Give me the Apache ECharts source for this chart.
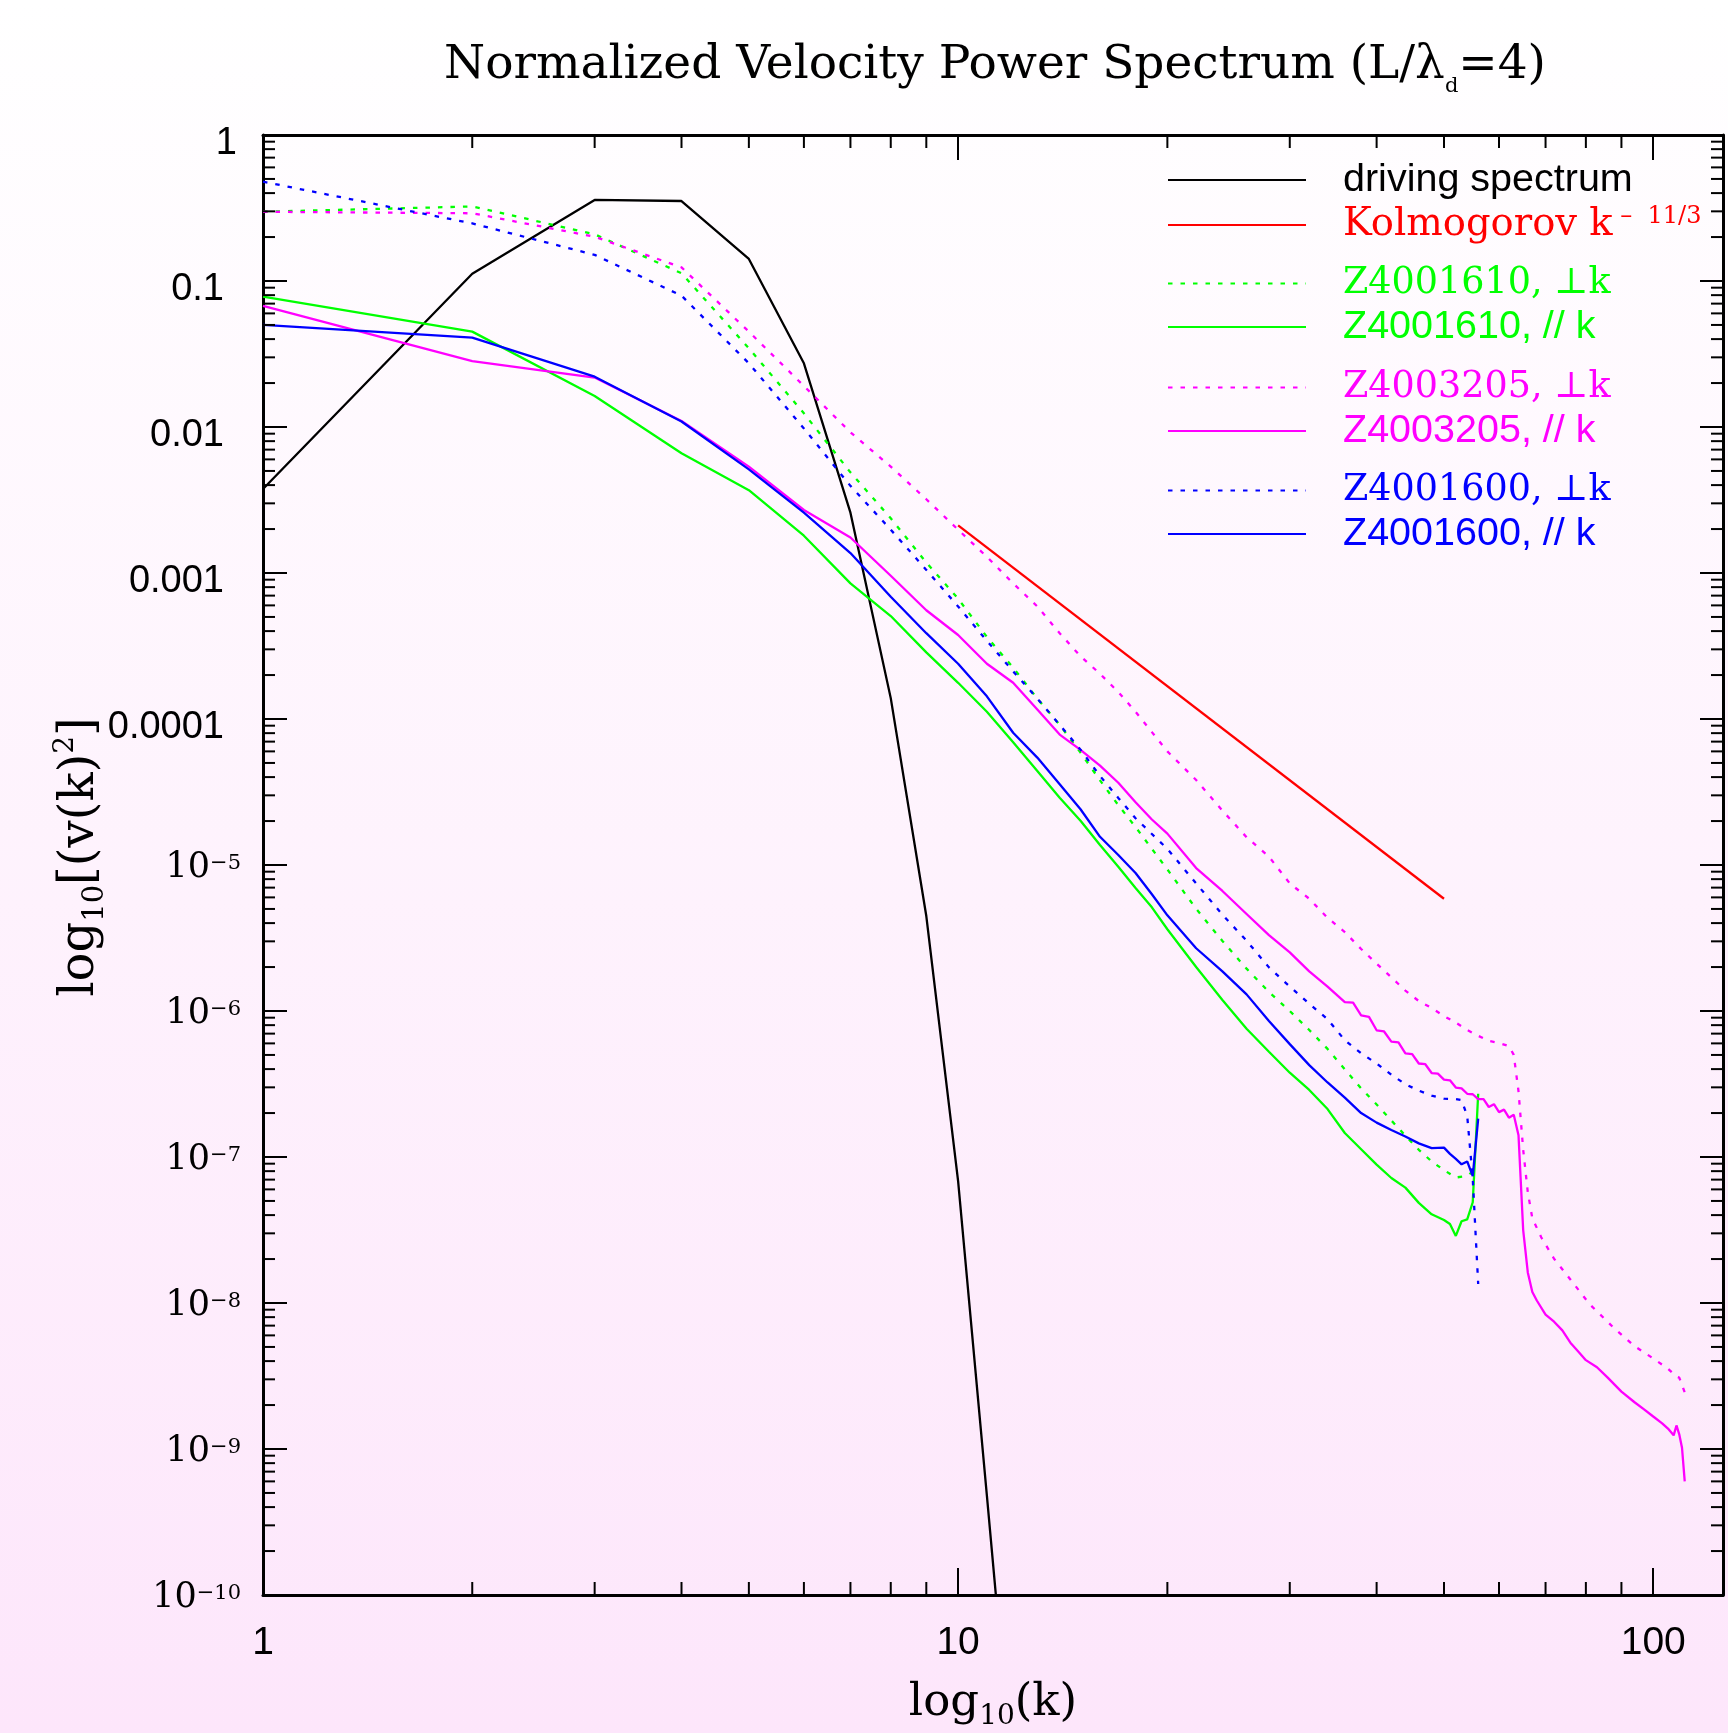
<!DOCTYPE html>
<html><head><meta charset="utf-8">
<script src="https://cdn.jsdelivr.net/npm/echarts/dist/echarts.min.js"></script>
<style>html,body{margin:0;padding:0;background:#fff}#c{width:1728px;height:1733px}</style>
</head><body><div id="c"></div>
<script>
// ---------- axis ranges & tick labels ----------
const X_MIN = 1, X_MAX = 126, Y_MIN = 1e-10, Y_MAX = 1;
const xTickLabels = ['1', '10', '100'];            // at 10^0, 10^1, 10^2
const yTickLabels = ['1', '0.1', '0.01', '0.001', '0.0001',
  '10^−5', '10^−6', '10^−7', '10^−8', '10^−9', '10^−10']; // at 10^0 ... 10^-10

// ---------- series data (k, power) ----------
const kDrive = [1, 2, 3, 4, 5, 6, 7, 8, 9, 10, 11, 12];
const vDrive = [3.76e-3, 0.112, 0.359, 0.353, 0.1416, 2.73e-2, 2.59e-3, 1.39e-4, 4.47e-6, 6.84e-8, 4.79e-10, 4.9e-12];

const kKolmo = [10, 50];
const vKolmo = [2.12e-3, 5.87e-6];

const kZ1610perp = [1,2,3,4,5,6,7,8,9,10,11,12,13,14,15,16,17,18,19,20,22,24,26,28,30,32,34,36,38,40,42,44,46,48,50,52,54,56];
const vZ1610perp = [0.298,0.324,0.209,0.113,3.46e-2,1.24e-2,4.89e-3,2.37e-3,1.18e-3,6.67e-4,3.65e-4,2.25e-4,1.38e-4,9.12e-5,5.89e-5,3.80e-5,2.57e-5,1.82e-5,1.29e-5,9.33e-6,5.01e-6,3.02e-6,1.95e-6,1.35e-6,1.00e-6,7.41e-7,5.50e-7,3.98e-7,2.95e-7,2.29e-7,1.78e-7,1.40e-7,1.12e-7,9.33e-8,8.13e-8,7.24e-8,7.41e-8,8.51e-8];

const kZ1610par = [1,2,3,4,5,6,7,8,9,10,11,12,13,14,15,16,17,18,19,20,22,24,26,28,30,32,34,36,38,40,42,44,46,48,50,51,52,53,54,55,56];
const vZ1610par = [7.82e-2,4.50e-2,1.63e-2,6.61e-3,3.69e-3,1.80e-3,8.49e-4,5.07e-4,2.86e-4,1.77e-4,1.12e-4,6.92e-5,4.41e-5,2.89e-5,2.01e-5,1.37e-5,9.73e-6,6.95e-6,5.13e-6,3.63e-6,2.00e-6,1.19e-6,7.55e-7,5.26e-7,3.78e-7,2.88e-7,2.13e-7,1.46e-7,1.13e-7,8.87e-8,7.18e-8,6.17e-8,4.85e-8,4.05e-8,3.70e-8,3.48e-8,2.88e-8,3.63e-8,3.74e-8,4.90e-8,2.71e-7];

const kZ3205perp = [1,2,3,4,5,6,7,8,9,10,11,12,13,14,15,16,17,18,19,20,22,24,26,28,30,32,34,36,38,40,42,44,46,48,50,52,54,56,58,60,62,63,64,65,66,67,69,72,76,81,88,94,100,105,108,109,111];
const vZ3205perp = [0.298,0.291,0.201,0.124,4.50e-2,1.91e-2,9.20e-3,5.35e-3,3.20e-3,1.98e-3,1.29e-3,8.49e-4,5.90e-4,3.87e-4,2.69e-4,2.04e-4,1.53e-4,1.12e-4,8.13e-5,6.00e-5,3.82e-5,2.36e-5,1.55e-5,1.14e-5,7.48e-6,5.87e-6,4.35e-6,3.47e-6,2.66e-6,2.11e-6,1.70e-6,1.38e-6,1.17e-6,1.05e-6,9.23e-7,8.32e-7,7.41e-7,6.76e-7,6.24e-7,6.04e-7,5.75e-7,5.01e-7,2.82e-7,1.12e-7,5.75e-8,3.80e-8,2.82e-8,2.01e-8,1.45e-8,9.82e-9,6.67e-9,5.06e-9,4.17e-9,3.55e-9,3.13e-9,3.08e-9,2.44e-9];

const kZ3205par = [1,2,3,4,5,6,7,8,9,10,11,12,13,14,15,16,17,18,19,20,22,24,26,28,30,32,34,36,37,38,39,40,41,42,43,44,45,46,47,48,49,50,51,52,53,54,55,56,57,58,59,60,61,62,63,64,65,66,67,68,70,72,74,76,78,80,83,86,90,94,97,100,103,105,107,108,109,110,111];
const vZ3205par = [6.75e-2,2.83e-2,2.18e-2,1.10e-2,5.35e-3,2.70e-3,1.75e-3,9.57e-4,5.56e-4,3.76e-4,2.39e-4,1.77e-4,1.16e-4,7.82e-5,6.14e-5,4.79e-5,3.66e-5,2.69e-5,2.05e-5,1.64e-5,9.53e-6,6.64e-6,4.62e-6,3.31e-6,2.52e-6,1.87e-6,1.47e-6,1.15e-6,1.14e-6,9.33e-7,9.12e-7,7.38e-7,7.24e-7,6.17e-7,6.10e-7,5.13e-7,5.07e-7,4.37e-7,4.32e-7,3.76e-7,3.72e-7,3.39e-7,3.35e-7,2.99e-7,2.95e-7,2.71e-7,2.69e-7,2.49e-7,2.49e-7,2.20e-7,2.30e-7,2.03e-7,2.11e-7,1.86e-7,1.95e-7,1.41e-7,3.16e-8,1.62e-8,1.19e-8,1.04e-8,8.32e-9,7.45e-9,6.49e-9,5.35e-9,4.66e-9,4.06e-9,3.63e-9,3.08e-9,2.47e-9,2.09e-9,1.87e-9,1.67e-9,1.50e-9,1.38e-9,1.24e-9,1.45e-9,1.26e-9,1.02e-9,6.01e-10];

const kZ1600perp = [1,2,3,4,5,6,7,8,9,10,11,12,13,14,15,16,17,18,20,22,24,26,28,30,32,34,36,38,40,42,44,46,48,50,52,53,54,55,56];
const vZ1600perp = [0.479,0.248,0.151,7.94e-2,2.73e-2,9.77e-3,3.95e-3,1.98e-3,1.05e-3,5.90e-4,3.43e-4,2.12e-4,1.38e-4,9.12e-5,6.17e-5,4.07e-5,2.88e-5,2.09e-5,1.29e-5,7.48e-6,4.57e-6,3.03e-6,1.99e-6,1.47e-6,1.12e-6,8.79e-7,6.31e-7,5.13e-7,4.37e-7,3.66e-7,3.15e-7,2.85e-7,2.63e-7,2.51e-7,2.49e-7,2.45e-7,1.91e-7,7.08e-8,1.35e-8];

const kZ1600par = [1,2,3,4,5,6,7,8,9,10,11,12,13,14,15,16,17,18,19,20,22,24,26,28,30,32,34,36,38,40,42,44,46,48,50,51,52,53,54,55,56];
const vZ1600par = [5.00e-2,4.09e-2,2.21e-2,1.09e-2,5.13e-3,2.59e-3,1.37e-3,6.87e-4,3.87e-4,2.39e-4,1.43e-4,8.05e-5,5.44e-5,3.57e-5,2.41e-5,1.56e-5,1.17e-5,8.81e-6,6.31e-6,4.52e-6,2.69e-6,1.87e-6,1.30e-6,8.53e-7,5.93e-7,4.26e-7,3.24e-7,2.55e-7,2.00e-7,1.72e-7,1.53e-7,1.38e-7,1.24e-7,1.15e-7,1.16e-7,1.05e-7,9.70e-8,8.91e-8,9.33e-8,7.40e-8,1.83e-7];

// ---------- names ----------
const N_DRIVE = 'driving spectrum';
const N_KOLMO = 'Kolmogorov k-11/3';
const N_1610p = 'Z4001610, ⊥k', N_1610l = 'Z4001610, // k';
const N_3205p = 'Z4003205, ⊥k', N_3205l = 'Z4003205, // k';
const N_1600p = 'Z4001600, ⊥k', N_1600l = 'Z4001600, // k';

const SERIF = 'DejaVu Serif', SANS = 'Liberation Sans';
const C_G = '#00ff00', C_M = '#ff00ff', C_B = '#0000ff', C_R = '#ff0000';
const DOT = [4.5, 8];
const LW = 2.3;

function pairs(ks, vs) { return ks.map((k, i) => [k, vs[i]]); }
function lineSeries(name, ks, vs, color, dotted) {
  return {
    type: 'line', name: name, data: pairs(ks, vs), symbol: 'none', showSymbol: false,
    silent: true, animation: false, clip: true, z: 3,
    lineStyle: {color: color, width: LW, type: dotted ? DOT : 'solid'},
    itemStyle: {color: color}, emphasis: {disabled: true}
  };
}

// minor tick positions (2..9 per decade)
const xMinor = [], yMinor = [];
[1, 10, 100].forEach(d => { for (let m = 2; m <= 9; m++) if (d * m < X_MAX) xMinor.push(d * m); });
for (let e = -10; e < 0; e++) for (let m = 2; m <= 9; m++) yMinor.push(m * Math.pow(10, e));

function xMinorRender(params, api) {
  const v = api.value(0);
  const b = api.coord([v, Y_MIN]), t = api.coord([v, Y_MAX]);
  return {type: 'group', children: [
    {type: 'line', shape: {x1: b[0], y1: b[1], x2: b[0], y2: b[1] - 13}, style: {stroke: '#000', lineWidth: 2}},
    {type: 'line', shape: {x1: t[0], y1: t[1], x2: t[0], y2: t[1] + 13}, style: {stroke: '#000', lineWidth: 2}}
  ]};
}
function yMinorRender(params, api) {
  const v = api.value(1);
  const l = api.coord([X_MIN, v]), r = api.coord([X_MAX, v]);
  return {type: 'group', children: [
    {type: 'line', shape: {x1: l[0], y1: l[1], x2: l[0] + 12, y2: l[1]}, style: {stroke: '#000', lineWidth: 2}},
    {type: 'line', shape: {x1: r[0], y1: r[1], x2: r[0] - 12, y2: r[1]}, style: {stroke: '#000', lineWidth: 2}}
  ]};
}

const LS = 39.5, LR = 36.5;
const legendRich = {
  sp: {width: 32},
  k: {fontFamily: SANS, fontSize: LS, lineHeight: 40, color: '#000'},
  r: {fontFamily: SERIF, fontSize: 38.5, lineHeight: 40, color: C_R},
  rs: {fontFamily: SERIF, fontSize: 24, lineHeight: 26, verticalAlign: 'top', color: C_R},
  gs: {fontFamily: SERIF, fontSize: LR, lineHeight: 40, color: C_G},
  gn: {fontFamily: SANS, fontSize: LS, lineHeight: 40, color: C_G},
  ms: {fontFamily: SERIF, fontSize: LR, lineHeight: 40, color: C_M},
  mn: {fontFamily: SANS, fontSize: LS, lineHeight: 40, color: C_M},
  bs: {fontFamily: SERIF, fontSize: LR, lineHeight: 40, color: C_B},
  bn: {fontFamily: SANS, fontSize: LS, lineHeight: 40, color: C_B}
};
const legendFmt = {};
legendFmt[N_DRIVE] = '{sp| }{k|driving spectrum}';
legendFmt[N_KOLMO] = '{sp| }{r|Kolmogorov k}{rs| –  11/3}';
legendFmt[N_1610p] = '{sp| }{gs|' + N_1610p + '}';
legendFmt[N_1610l] = '{sp| }{gn|' + N_1610l + '}';
legendFmt[N_3205p] = '{sp| }{ms|' + N_3205p + '}';
legendFmt[N_3205l] = '{sp| }{mn|' + N_3205l + '}';
legendFmt[N_1600p] = '{sp| }{bs|' + N_1600p + '}';
legendFmt[N_1600l] = '{sp| }{bn|' + N_1600l + '}';

function mkLegend(names, top) {
  return {
    show: true, orient: 'vertical', left: 1167, top: top, padding: 0, itemGap: 5,
    itemWidth: 138, itemHeight: 14, selectedMode: false,
    itemStyle: {opacity: 0, borderWidth: 0},
    lineStyle: {width: 2},
    data: names.map(n => ({name: n})),
    formatter: n => legendFmt[n],
    textStyle: {rich: legendRich}
  };
}

const nameRich = {
  l: {fontFamily: SERIF, fontSize: 48, lineHeight: 58, color: '#000'},
  s: {fontFamily: SERIF, fontSize: 29, lineHeight: 26, verticalAlign: 'bottom', color: '#000'},
  p: {fontFamily: SERIF, fontSize: 28, lineHeight: 28, verticalAlign: 'top', color: '#000'}
};
const xNameRich = {
  l: {fontFamily: SERIF, fontSize: 45, lineHeight: 56, color: '#000'},
  s: {fontFamily: SERIF, fontSize: 28, lineHeight: 26, verticalAlign: 'bottom', color: '#000'}
};

const chart = echarts.init(document.getElementById('c'), null, {renderer: 'canvas'});
chart.setOption({
  animation: false,
  backgroundColor: {type: 'linear', x: 0, y: 0, x2: 0, y2: 1,
    colorStops: [{offset: 0, color: '#ffffff'}, {offset: 1, color: '#fde6fb'}]},
  grid: {left: 263, top: 135, width: 1460, height: 1460, containLabel: false, outerBoundsMode: 'none'},
  graphic: [{
    type: 'text', x: 995, y: 66, z: 10,
    style: {
      text: '{a|Normalized Velocity Power Spectrum (L/λ}{s|d}{a|=4)}',
      align: 'center', verticalAlign: 'middle',
      rich: {
        a: {fontFamily: SERIF, fontSize: 47, lineHeight: 62, fill: '#000'},
        s: {fontFamily: SERIF, fontSize: 21, lineHeight: 18, verticalAlign: 'bottom', fill: '#000'}
      }
    }
  }],
  legend: [
    mkLegend([N_DRIVE, N_KOLMO], 160),
    mkLegend([N_1610p, N_1610l], 265),
    mkLegend([N_3205p, N_3205l], 369),
    mkLegend([N_1600p, N_1600l], 472)
  ],
  xAxis: [{
    type: 'log', logBase: 10, min: X_MIN, max: X_MAX, interval: 1, position: 'bottom',
    axisLine: {show: true, lineStyle: {color: '#000', width: 3}},
    axisTick: {show: true, inside: true, length: 27, lineStyle: {color: '#000', width: 2}},
    splitLine: {show: false}, minorTick: {show: false},
    axisLabel: {
      show: true, margin: 29, color: '#000', fontFamily: SANS, fontSize: 39, lineHeight: 39,
      formatter: function (v) {
        const e = Math.log10(v), n = Math.round(e);
        if (Math.abs(e - n) > 1e-6) return '';
        return xTickLabels[n] !== undefined ? xTickLabels[n] : '';
      }
    },
    name: '{l|log}{s|10}{l|(k)}', nameLocation: 'middle', nameGap: 80, nameMoveOverlap: false,
    nameTextStyle: {rich: xNameRich}
  }, {
    type: 'log', logBase: 10, min: X_MIN, max: X_MAX, interval: 1, position: 'top',
    axisLine: {show: true, lineStyle: {color: '#000', width: 3}},
    axisTick: {show: true, inside: true, length: 25, lineStyle: {color: '#000', width: 2}},
    axisLabel: {show: false}, splitLine: {show: false}
  }],
  yAxis: [{
    type: 'log', logBase: 10, min: Y_MIN, max: Y_MAX, interval: 1, position: 'left',
    axisLine: {show: true, lineStyle: {color: '#000', width: 3}},
    axisTick: {show: true, inside: true, length: 24, lineStyle: {color: '#000', width: 2}},
    splitLine: {show: false}, minorTick: {show: false},
    axisLabel: {
      show: true, margin: 22, color: '#000',
      formatter: function (v) {
        const e = -Math.log10(v), n = Math.round(e);
        if (Math.abs(e - n) > 1e-6) return '';
        const t = yTickLabels[n];
        if (t === undefined) return '';
        if (t.indexOf('^') >= 0) { const p = t.split('^'); return '{pb|' + p[0] + '}{ps|' + p[1] + '}'; }
        return t === '1' ? '{one|1}' : '{dec|' + t + '}';
      },
      rich: {
        one: {fontFamily: SANS, fontSize: 38, lineHeight: 38, padding: [18, 4, 0, 0], color: '#000'},
        dec: {fontFamily: SANS, fontSize: 38, lineHeight: 38, padding: [18, 17, 0, 0], color: '#000'},
        pb: {fontFamily: SERIF, fontSize: 35, lineHeight: 38, padding: [6, 0, 0, 0], color: '#000'},
        ps: {fontFamily: SERIF, fontSize: 21, lineHeight: 22, padding: [7, 0, 0, 0], verticalAlign: 'top', color: '#000'}
      }
    },
    name: '{l|log}{s|10}{l|[(v(k)}{p|2}{l|]}', nameLocation: 'middle', nameGap: 153, nameRotate: 90,
    nameMoveOverlap: false,
    nameTextStyle: {rich: nameRich, padding: [0, 0, 0, 16]}
  }, {
    type: 'log', logBase: 10, min: Y_MIN, max: Y_MAX, interval: 1, position: 'right',
    axisLine: {show: true, lineStyle: {color: '#000', width: 3}},
    axisTick: {show: true, inside: true, length: 23, lineStyle: {color: '#000', width: 2}},
    axisLabel: {show: false}, splitLine: {show: false}
  }],
  series: [
    lineSeries(N_DRIVE, kDrive, vDrive, '#000000', false),
    lineSeries(N_KOLMO, kKolmo, vKolmo, C_R, false),
    lineSeries(N_1610p, kZ1610perp, vZ1610perp, C_G, true),
    lineSeries(N_1610l, kZ1610par, vZ1610par, C_G, false),
    lineSeries(N_3205p, kZ3205perp, vZ3205perp, C_M, true),
    lineSeries(N_3205l, kZ3205par, vZ3205par, C_M, false),
    lineSeries(N_1600p, kZ1600perp, vZ1600perp, C_B, true),
    lineSeries(N_1600l, kZ1600par, vZ1600par, C_B, false),
    {type: 'custom', xAxisIndex: 0, yAxisIndex: 0, silent: true, z: 4, animation: false,
     data: xMinor.map(v => [v, Y_MIN]), renderItem: xMinorRender},
    {type: 'custom', xAxisIndex: 0, yAxisIndex: 0, silent: true, z: 4, animation: false,
     data: yMinor.map(v => [X_MIN, v]), renderItem: yMinorRender}
  ]
});
</script></body></html>
